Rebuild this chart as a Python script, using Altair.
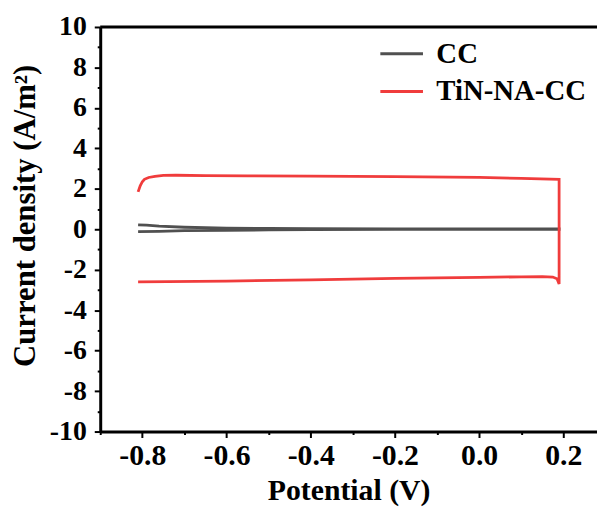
import altair as alt
import pandas as pd

cc_x = [-0.81, -0.79, -0.76, -0.7, -0.6, -0.5, -0.4, -0.2, 0.0, 0.1, 0.19,
        0.19, 0.1, 0.0, -0.2, -0.4, -0.5, -0.6, -0.7, -0.76, -0.81]
cc_y = [0.22, 0.2, 0.15, 0.1, 0.06, 0.04, 0.03, 0.02, 0.02, 0.02, 0.02,
        0.0, 0.0, -0.01, -0.01, -0.02, -0.03, -0.05, -0.07, -0.1, -0.12]

tin_x = [-0.81, -0.805, -0.8, -0.795, -0.785, -0.77, -0.75, -0.72, -0.65, -0.55, -0.4,
         -0.2, 0.0, 0.1, 0.19, 0.19, 0.185, 0.175, 0.15, 0.1, 0.0, -0.2, -0.4, -0.6, -0.81]
tin_y = [1.85, 2.15, 2.35, 2.47, 2.56, 2.62, 2.66, 2.67, 2.65, 2.64, 2.63,
         2.6, 2.56, 2.52, 2.47, -2.7, -2.45, -2.36, -2.34, -2.35, -2.38, -2.43, -2.5, -2.56, -2.6]

series_names = ["CC", "TiN-NA-CC"]
series_colors = ["#505050", "#f03c3c"]

x_ticks = [round(-0.9 + 0.1 * i, 1) for i in range(12)]
y_ticks = list(range(-10, 11))

rows = []
for i, (x, y) in enumerate(zip(cc_x, cc_y)):
    rows.append({"series": "CC", "x": x, "y": y, "o": i})
for i, (x, y) in enumerate(zip(tin_x, tin_y)):
    rows.append({"series": "TiN-NA-CC", "x": x, "y": y, "o": i})
df = pd.DataFrame(rows)

W, H = 501, 408
FONT = "Liberation Serif"

x_axis = alt.Axis(
    values=x_ticks,
    title="Potential (V)",
    labelExpr="abs(round(datum.value*10)) % 2 == 1 ? '' : (datum.value < -0.001 ? '-' : '') + format(abs(datum.value), '.1f')",
    tickSize={"condition": {"test": "abs(round(datum.value*10)) % 2 == 1", "value": 3}, "value": 6},
    labelFlush=False, labelOverlap=False, grid=False,
    labelFontSize=30, titleFontSize=30, labelPadding=3, titlePadding=6,
)
y_axis = alt.Axis(
    values=y_ticks,
    title="Current density (A/m²)",
    labelExpr="abs(datum.value) % 2 == 1 ? '' : (datum.value < 0 ? '-' : '') + format(abs(datum.value), 'd')",
    tickSize={"condition": {"test": "abs(datum.value) % 2 == 1", "value": 3}, "value": 6},
    labelFlush=False, labelOverlap=False, grid=False,
    labelFontSize=28, titleFontSize=31, labelPadding=8, titlePadding=8, titleY=190,
)

lines = alt.Chart(df).mark_line(strokeWidth=2.8).encode(
    x=alt.X("x:Q", scale=alt.Scale(domain=[-0.9, 0.28], nice=False, zero=False), axis=x_axis),
    y=alt.Y("y:Q", scale=alt.Scale(domain=[-10, 10], nice=False), axis=y_axis),
    color=alt.Color("series:N",
                    scale=alt.Scale(domain=series_names, range=series_colors),
                    legend=alt.Legend(title=None, orient="none", legendX=281, legendY=4,
                                      symbolType="stroke", symbolSize=1849, symbolStrokeWidth=3,
                                      labelFontSize=29, labelFont=FONT, labelFontWeight="bold",
                                      labelColor="black",
                                      labelOffset=12, rowPadding=-5, padding=0)),
    detail="series:N",
    order="o:Q",
)

top_line = alt.Chart(pd.DataFrame({"a": [0]})).mark_rule(color="black", strokeWidth=3).encode(
    x=alt.value(0), x2=alt.value(W), y=alt.value(0)
)

chart = alt.layer(lines, top_line).properties(
    width=W, height=H,
    autosize=alt.AutoSizeParams(type="none"),
    padding={"left": 93, "top": 17, "right": 0, "bottom": 80},
).configure_view(stroke=None).configure_axis(
    labelFont=FONT, titleFont=FONT, labelFontWeight="bold", titleFontWeight="bold",
    labelColor="black", titleColor="black", domainColor="black", tickColor="black",
    domainWidth=3, tickWidth=2,
)

chart.save("out.html", embed_options={"renderer": "svg", "actions": False})
